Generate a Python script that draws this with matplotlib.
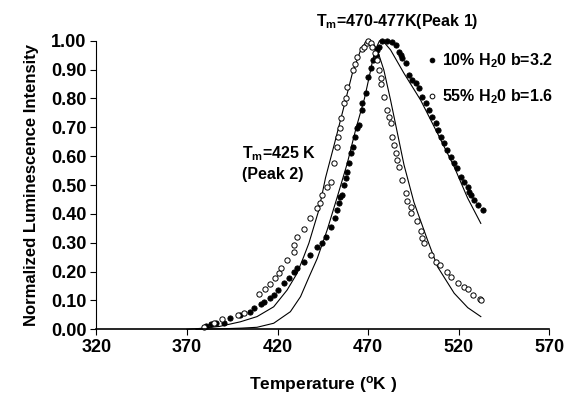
"""Normalized luminescence glow curves: 10% and 55% H2O samples with fits."""

import matplotlib

matplotlib.use("Agg")
import matplotlib.pyplot as plt

plt.rcParams["font.family"] = ["Liberation Sans", "DejaVu Sans"]
plt.rcParams["font.weight"] = "bold"
plt.rcParams["mathtext.fontset"] = "custom"
plt.rcParams["mathtext.bf"] = "Liberation Sans:bold"
plt.rcParams["mathtext.rm"] = "Liberation Sans:bold"
plt.rcParams["mathtext.default"] = "bf"

# 10% H2O measured points (filled)
T_10 = [380.7, 383.3, 386.2, 390.6, 394.0, 399.5, 404.6, 406.8, 410.9, 412.8,
        415.7, 418.3, 420.5, 423.8, 426.2, 429.0, 430.8, 434.5, 438.2, 441.9,
        444.7, 446.5, 449.3, 451.6, 453.0, 453.9, 454.4, 455.7, 456.6, 457.6,
        458.5, 459.4, 460.7, 461.8, 462.5, 463.6, 464.9, 466.4, 466.8, 468.6,
        469.9, 471.4, 472.9, 474.1, 475.1, 476.0, 477.9, 480.2, 483.4, 485.2,
        487.0, 488.0, 488.9, 490.7, 492.6, 494.4, 496.3, 498.1, 500.0, 501.8,
        503.6, 505.5, 507.3, 508.6, 510.1, 511.9, 513.8, 515.6, 517.5, 519.3,
        521.2, 523.0, 524.9, 525.8, 526.7, 528.5, 530.4, 533.2]
I_10 = [0.011, 0.018, 0.021, 0.023, 0.038, 0.049, 0.061, 0.073, 0.088, 0.096,
        0.107, 0.119, 0.136, 0.161, 0.177, 0.200, 0.211, 0.234, 0.257, 0.286,
        0.298, 0.321, 0.356, 0.385, 0.413, 0.437, 0.459, 0.465, 0.500, 0.523,
        0.546, 0.575, 0.610, 0.633, 0.667, 0.696, 0.708, 0.760, 0.783, 0.818,
        0.875, 0.904, 0.933, 0.950, 0.968, 0.979, 1.000, 1.000, 0.997, 0.985,
        0.962, 0.950, 0.939, 0.922, 0.881, 0.864, 0.852, 0.835, 0.806, 0.783,
        0.760, 0.737, 0.714, 0.691, 0.667, 0.644, 0.621, 0.598, 0.575, 0.558,
        0.529, 0.511, 0.494, 0.477, 0.465, 0.448, 0.431, 0.413]

# 55% H2O measured points (open)
T_55 = [379.2, 384.7, 389.4, 398.0, 401.3, 409.6, 413.3, 416.1, 418.8, 420.7,
        422.0, 425.3, 429.0, 429.3, 430.8, 434.5, 438.2, 441.9, 443.3, 444.7,
        447.4, 449.3, 451.1, 453.0, 453.5, 454.4, 454.8, 456.6, 457.6, 458.5,
        461.8, 462.5, 464.0, 466.8, 467.7, 469.2, 470.1, 471.4, 472.3, 473.8,
        475.1, 476.0, 476.9, 476.9, 478.7, 480.6, 481.5, 482.4, 483.4, 484.3,
        485.2, 486.2, 487.0, 488.9, 490.7, 491.7, 493.5, 493.5, 497.2, 499.0,
        499.9, 500.9, 504.6, 507.3, 509.7, 513.3, 516.0, 519.7, 522.7, 524.9,
        528.0, 531.8, 532.2]
I_55 = [0.009, 0.023, 0.035, 0.050, 0.058, 0.121, 0.139, 0.157, 0.177, 0.196,
        0.211, 0.239, 0.269, 0.292, 0.321, 0.348, 0.385, 0.419, 0.437, 0.465,
        0.494, 0.511, 0.575, 0.633, 0.667, 0.696, 0.731, 0.783, 0.800, 0.841,
        0.898, 0.919, 0.945, 0.970, 0.979, 0.991, 1.000, 0.993, 0.979, 0.956,
        0.933, 0.898, 0.870, 0.850, 0.806, 0.760, 0.737, 0.714, 0.667, 0.639,
        0.610, 0.587, 0.563, 0.517, 0.473, 0.446, 0.425, 0.402, 0.376, 0.342,
        0.315, 0.300, 0.257, 0.234, 0.223, 0.200, 0.180, 0.159, 0.148, 0.139,
        0.119, 0.104, 0.102]

# fitted curves
T_fit55 = [370.0, 377.2, 388.0, 399.5, 408.7, 417.9, 425.3, 430.8, 434.5, 437.3,
           442.8, 446.5, 451.1, 456.6, 461.3, 465.9, 468.5, 470.4, 472.5, 475.1,
           478.7, 482.4, 486.2, 489.8, 495.3, 502.8, 508.3, 517.5, 525.0, 532.2]
I_fit55 = [0.000, 0.003, 0.010, 0.026, 0.044, 0.078, 0.136, 0.194, 0.252, 0.298,
           0.413, 0.525, 0.635, 0.770, 0.887, 0.968, 0.993, 1.000, 0.993, 0.968,
           0.898, 0.794, 0.679, 0.570, 0.440, 0.309, 0.217, 0.125, 0.075, 0.044]
T_fit10 = [375.0, 390.2, 400.0, 408.7, 417.9, 427.1, 432.7, 437.3, 441.9, 447.4,
           453.0, 458.5, 463.1, 468.0, 470.8, 472.6, 474.5, 476.3, 479.0, 482.4,
           489.8, 499.0, 508.3, 517.5, 524.9, 532.2]
I_fit10 = [0.000, 0.002, 0.004, 0.007, 0.021, 0.061, 0.113, 0.180, 0.245, 0.344,
           0.459, 0.575, 0.691, 0.800, 0.880, 0.935, 0.975, 1.000, 0.993, 0.968,
           0.887, 0.794, 0.679, 0.563, 0.455, 0.367]

X_TICKS = [320, 370, 420, 470, 520, 570]
Y_TICKS = [0.0, 0.1, 0.2, 0.3, 0.4, 0.5, 0.6, 0.7, 0.8, 0.9, 1.0]


def main():
    fig = plt.figure(figsize=(5.85, 3.94), dpi=100)
    ax = fig.add_axes([0.1646, 0.1642, 0.7744, 0.7325])

    ax.plot(T_fit55, I_fit55, color="black", lw=0.8, clip_on=False)
    ax.plot(T_fit10, I_fit10, color="black", lw=0.8, clip_on=False)
    ax.plot(T_10, I_10, "o", ms=3.8, mfc="black", mec="black", mew=0.6,
            clip_on=False, label="10% H$_2$0 b=3.2")
    ax.plot(T_55, I_55, "o", ms=3.8, mfc="white", mec="black", mew=0.7,
            clip_on=False, label="55% H$_2$0 b=1.6")

    ax.set_xlim(320, 570)
    ax.set_ylim(0, 1.0)
    ax.set_xticks(X_TICKS)
    ax.set_yticks(Y_TICKS)
    ax.set_yticklabels([f"{v:.2f}" for v in Y_TICKS])
    ax.tick_params(direction="out", length=4, width=0.8, labelsize=13, pad=3)
    for s in ("top", "right"):
        ax.spines[s].set_visible(False)
    ax.spines["left"].set_linewidth(0.8)
    ax.spines["bottom"].set_linewidth(1.2)

    ax.set_xlabel("Temperature ($^{o}$K )", fontsize=12.5, fontweight="bold", labelpad=13)
    ax.set_ylabel("Normalized Luminescence Intensity", fontsize=12, fontweight="bold", labelpad=9)

    ax.text(0.665, 1.035, "T$_m$=470-477K(Peak 1)", transform=ax.transAxes,
            ha="center", va="bottom", fontsize=11.5, fontweight="bold")
    ax.text(0.322, 0.64, "T$_m$=425 K\n(Peak 2)", transform=ax.transAxes,
            ha="left", va="top", fontsize=11.5, fontweight="bold", linespacing=1.3)

    leg = ax.legend(loc="upper left", bbox_to_anchor=(0.72, 0.985), frameon=False,
                    handlelength=0.4, handletextpad=0.4, labelspacing=1.1,
                    markerscale=0.9, fontsize=11.5, borderaxespad=0)
    for t in leg.get_texts():
        t.set_fontweight("bold")

    fig.savefig("out.png", dpi=100)
    plt.close(fig)


if __name__ == "__main__":
    main()
